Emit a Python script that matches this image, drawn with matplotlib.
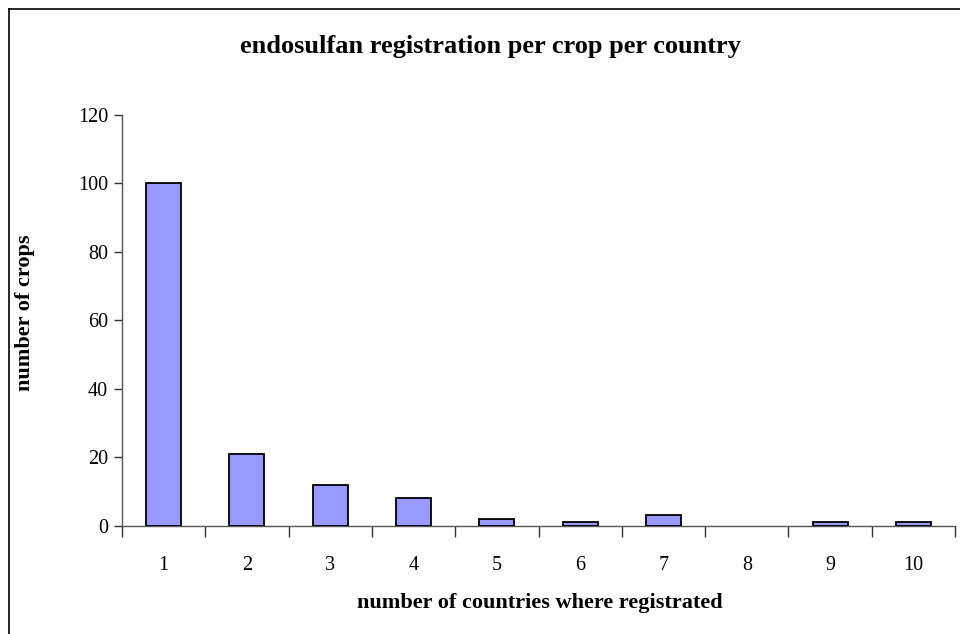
import matplotlib
matplotlib.use("Agg")
import matplotlib.pyplot as plt
from matplotlib.lines import Line2D
import numpy as np

plt.rcParams['font.family'] = ['Liberation Serif', 'DejaVu Serif']

countries = [1, 2, 3, 4, 5, 6, 7, 8, 9, 10]
crops = [100, 21, 12, 8, 2, 1, 3, 0, 1, 1]
yticks = [0, 20, 40, 60, 80, 100, 120]

fig = plt.figure(figsize=(9.6, 6.34), dpi=100)
ax = fig.add_axes([122 / 960, 1 - 525.7 / 634, (955 - 122) / 960, (525.7 - 115) / 634])

x = np.arange(len(countries))
# empty categories get no outline so nothing shows on the axis line
edge_widths = [1.3 if v > 0 else 0 for v in crops]
ax.bar(x, crops, width=0.42, color='#9999FF', edgecolor='black',
       linewidth=edge_widths, zorder=3)

ax.set_xlim(-0.5, len(countries) - 0.5)
ax.set_ylim(0, 120)
ax.set_yticks(yticks)
ax.set_yticklabels([str(v) for v in yticks], fontsize=14.5)

# category labels sit between tick marks placed at the category boundaries
ax.set_xticks(x)
ax.set_xticklabels([str(c) for c in countries], fontsize=14.5)
ax.tick_params(axis='x', which='major', length=0, pad=22)
ax.set_xticks(np.arange(len(countries) + 1) - 0.5, minor=True)
ax.tick_params(axis='x', which='minor', length=8, width=1, color='#333333', direction='out')
ax.tick_params(axis='y', length=6, width=1, color='#333333', direction='out', pad=4)

for side in ('top', 'right'):
    ax.spines[side].set_visible(False)
for side in ('left', 'bottom'):
    ax.spines[side].set_color('#555555')
    ax.spines[side].set_linewidth(1.0)

fig.text(491 / 960, 1 - 47 / 634, 'endosulfan registration per crop per country',
         ha='center', va='center', fontsize=19, fontweight='bold')
fig.text(540 / 960, 1 - 603 / 634, 'number of countries where registrated',
         ha='center', va='center', fontsize=16, fontweight='bold')
fig.text(25 / 960, 1 - 313 / 634, 'number of crops', rotation=90,
         ha='center', va='center', fontsize=16, fontweight='bold')

# chart area border (top and left edges visible)
fig.add_artist(Line2D([9 / 960, 1.0], [1 - 9 / 634, 1 - 9 / 634], color='black', lw=1.2,
                      transform=fig.transFigure))
fig.add_artist(Line2D([9 / 960, 9 / 960], [0.0, 1 - 9 / 634], color='black', lw=1.2,
                      transform=fig.transFigure))

fig.savefig('out.png', dpi=100)
